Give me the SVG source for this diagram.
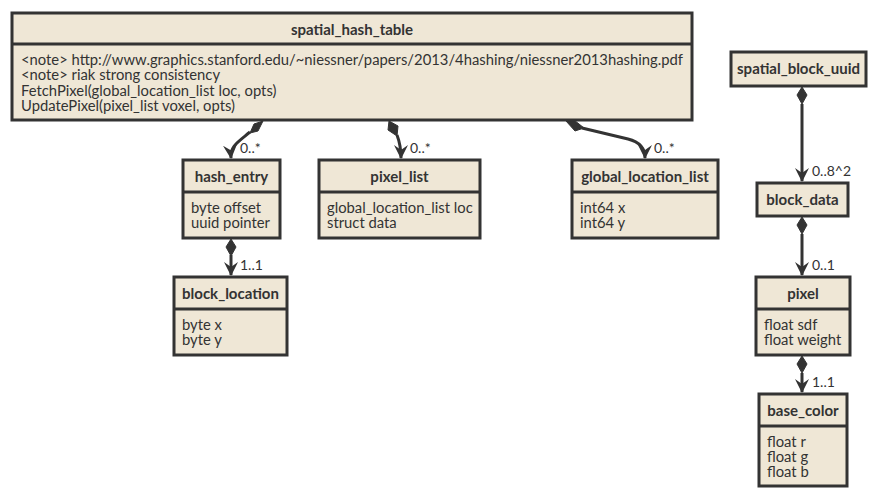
<svg xmlns="http://www.w3.org/2000/svg" width="886" height="499" viewBox="0 0 886 499">
<defs>
<style>
.box{fill:#EFE7D6;stroke:#333;stroke-width:3}
.sep{stroke:#333;stroke-width:3}
.t{font-family:Lato,"Noto Sans",sans-serif;font-size:15px;font-weight:bold;fill:#333;text-anchor:middle}
.b{font-family:Lato,"Noto Sans",sans-serif;font-size:14.8px;fill:#333}
.l{font-family:Lato,"Noto Sans",sans-serif;font-size:14px;fill:#333}
.c{fill:none;stroke:#333;stroke-width:3}
.d{fill:#333;stroke:#333;stroke-width:1}
</style>
<marker id="arr" viewBox="0 0 14 14" refX="13" refY="7" markerWidth="14" markerHeight="14" markerUnits="userSpaceOnUse" orient="auto">
<path d="M0,0 L14,7 L0,14 L5,7 Z" fill="#333"/>
</marker>
</defs>
<rect width="886" height="499" fill="#fff"/>
<g id="connectors">
<path class="c" d="M250,132 C238,142 230,146 231,158" marker-end="url(#arr)"/>
<polygon class="d" points="263,121 258,131 250,133 254,124"/>
<path class="c" d="M397,135 C400,143 401,148 401,158" marker-end="url(#arr)"/>
<polygon class="d" points="389,121 398,126 397,136 388,130"/>
<path class="c" d="M582,128 L628,139 C640,142 645,148 645,158" marker-end="url(#arr)"/>
<polygon class="d" points="566,121 574,120 584,128 575,131"/>
<path class="c" d="M231,255 L231,275" marker-end="url(#arr)"/>
<polygon class="d" points="231,239 236,247 231,256 226,247"/>
<path class="c" d="M802,104 L802,181" marker-end="url(#arr)"/>
<polygon class="d" points="802,87 807,95 802,104 797,95"/>
<path class="c" d="M802,234 L802,275" marker-end="url(#arr)"/>
<polygon class="d" points="802,217 807,225 802,234 797,225"/>
<path class="c" d="M802,373 L802,392" marker-end="url(#arr)"/>
<polygon class="d" points="802,356 807,364 802,373 797,364"/>
<text class="l" x="240" y="153">0..*</text>
<text class="l" x="410" y="153">0..*</text>
<text class="l" x="654" y="153">0..*</text>
<text class="l" x="240" y="270">1..1</text>
<text class="l" x="812" y="176">0..8^2</text>
<text class="l" x="812" y="270">0..1</text>
<text class="l" x="812" y="387">1..1</text>
</g>
<g id="spatial_hash_table">
<rect class="box" x="12" y="13" width="680" height="107"/>
<line class="sep" x1="12" y1="44" x2="692" y2="44"/>
<text class="t" x="352" y="35">spatial_hash_table</text>
<text class="b" x="21" y="65">&lt;note&gt; http://www.graphics.stanford.edu/~niessner/papers/2013/4hashing/niessner2013hashing.pdf</text>
<text class="b" x="21" y="80">&lt;note&gt; riak strong consistency</text>
<text class="b" x="21" y="96">FetchPixel(global_location_list loc, opts)</text>
<text class="b" x="21" y="111">UpdatePixel(pixel_list voxel, opts)</text>
</g>
<g id="hash_entry">
<rect class="box" x="183" y="160" width="97" height="78"/>
<line class="sep" x1="183" y1="192" x2="280" y2="192"/>
<text class="t" x="231.5" y="182">hash_entry</text>
<text class="b" x="191" y="213">byte offset</text>
<text class="b" x="191" y="228">uuid pointer</text>
</g>
<g id="pixel_list">
<rect class="box" x="319" y="160" width="161" height="78"/>
<line class="sep" x1="319" y1="192" x2="480" y2="192"/>
<text class="t" x="399.5" y="182">pixel_list</text>
<text class="b" x="327" y="213">global_location_list loc</text>
<text class="b" x="327" y="228">struct data</text>
</g>
<g id="global_location_list">
<rect class="box" x="572" y="160" width="146" height="78"/>
<line class="sep" x1="572" y1="192" x2="718" y2="192"/>
<text class="t" x="645" y="182">global_location_list</text>
<text class="b" x="580" y="213">int64 x</text>
<text class="b" x="580" y="228">int64 y</text>
</g>
<g id="block_location">
<rect class="box" x="174" y="277" width="113" height="78"/>
<line class="sep" x1="174" y1="309" x2="287" y2="309"/>
<text class="t" x="230.5" y="299">block_location</text>
<text class="b" x="182" y="330">byte x</text>
<text class="b" x="182" y="345">byte y</text>
</g>
<g id="spatial_block_uuid">
<rect class="box" x="731" y="52" width="135" height="34"/>
<text class="t" x="798.5" y="74">spatial_block_uuid</text>
</g>
<g id="block_data">
<rect class="box" x="757" y="183" width="91" height="33"/>
<text class="t" x="802.5" y="205">block_data</text>
</g>
<g id="pixel">
<rect class="box" x="756" y="277" width="94" height="78"/>
<line class="sep" x1="756" y1="309" x2="850" y2="309"/>
<text class="t" x="803" y="299">pixel</text>
<text class="b" x="764" y="330">float sdf</text>
<text class="b" x="764" y="345">float weight</text>
</g>
<g id="base_color">
<rect class="box" x="759" y="394" width="88" height="92"/>
<line class="sep" x1="759" y1="426" x2="847" y2="426"/>
<text class="t" x="803" y="416">base_color</text>
<text class="b" x="767" y="447">float r</text>
<text class="b" x="767" y="462">float g</text>
<text class="b" x="767" y="477">float b</text>
</g>
</svg>
